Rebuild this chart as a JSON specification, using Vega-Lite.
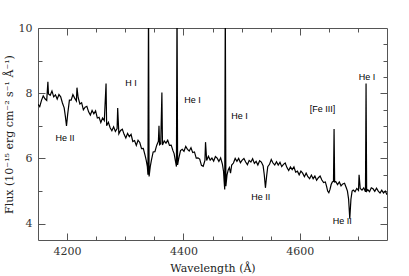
{
  "$schema": "https://vega.github.io/schema/vega-lite/v6.json",
  "width": 349,
  "height": 212,
  "autosize": {"type": "none"},
  "padding": {"left": 38, "top": 28, "right": 22, "bottom": 36},
  "background": "white",
  "config": {"view": {"stroke": "#555", "strokeWidth": 1}},
  "datasets": {
    "spec": [
      {"w":4150,"f":7.66},{"w":4153,"f":7.59},{"w":4156,"f":7.78},{"w":4159,"f":7.92},{"w":4162,"f":7.83},{"w":4165,"f":7.78},{"w":4167,"f":8.35},{"w":4168,"f":7.98},{"w":4171,"f":7.94},{"w":4174,"f":8.07},{"w":4177,"f":7.89},{"w":4180,"f":7.95},{"w":4183,"f":7.82},{"w":4186,"f":7.96},{"w":4189,"f":7.89},{"w":4192,"f":7.7},{"w":4195,"f":7.55},{"w":4197,"f":7.3},{"w":4199,"f":7.0},{"w":4201,"f":7.35},
      {"w":4204,"f":7.79},{"w":4207,"f":7.79},{"w":4210,"f":7.96},{"w":4213,"f":7.85},{"w":4216,"f":7.76},{"w":4217,"f":8.17},{"w":4219,"f":7.87},{"w":4222,"f":7.67},{"w":4225,"f":7.71},{"w":4228,"f":7.49},{"w":4231,"f":7.57},{"w":4234,"f":7.6},{"w":4237,"f":7.43},{"w":4240,"f":7.33},{"w":4243,"f":7.47},{"w":4246,"f":7.37},{"w":4249,"f":7.46},{"w":4252,"f":7.24},{"w":4255,"f":7.26},{"w":4258,"f":7.1},{"w":4261,"f":7.24},{"w":4264,"f":7.16},{"w":4267,"f":8.3},
      {"w":4268,"f":7.0},{"w":4271,"f":7.11},{"w":4274,"f":6.94},{"w":4277,"f":6.85},{"w":4280,"f":6.97},{"w":4283,"f":6.83},{"w":4286,"f":6.92},{"w":4287,"f":7.55},{"w":4289,"f":6.76},{"w":4292,"f":6.86},{"w":4295,"f":6.9},{"w":4298,"f":6.74},{"w":4301,"f":6.63},{"w":4304,"f":6.77},{"w":4307,"f":6.67},{"w":4310,"f":6.74},{"w":4313,"f":6.52},{"w":4316,"f":6.55},{"w":4319,"f":6.4},{"w":4322,"f":6.56},{"w":4325,"f":6.49},{"w":4328,"f":6.3},{"w":4331,"f":6.31},
      {"w":4334,"f":6.1},{"w":4336,"f":5.95},{"w":4338,"f":5.75},{"w":4339,"f":5.5},{"w":4340,"f":10.8},{"w":4341,"f":5.45},{"w":4343,"f":5.75},{"w":4345,"f":5.95},
      {"w":4348,"f":6.2},{"w":4351,"f":6.21},{"w":4354,"f":6.4},{"w":4357,"f":6.53},{"w":4358,"f":7.0},{"w":4359,"f":6.42},{"w":4361,"f":6.45},{"w":4363,"f":8.02},{"w":4364,"f":6.41},{"w":4367,"f":6.54},{"w":4370,"f":6.47},{"w":4373,"f":6.56},{"w":4376,"f":6.4},{"w":4379,"f":6.41},{"w":4382,"f":6.24},
      {"w":4384,"f":6.15},{"w":4386,"f":5.95},{"w":4388,"f":5.75},{"w":4389,"f":10.8},{"w":4390,"f":5.8},{"w":4392,"f":6.0},
      {"w":4395,"f":6.24},{"w":4398,"f":6.28},{"w":4401,"f":6.22},{"w":4404,"f":6.37},{"w":4407,"f":6.28},{"w":4410,"f":6.23},{"w":4413,"f":6.33},{"w":4416,"f":6.18},{"w":4419,"f":6.2},{"w":4422,"f":6.01},{"w":4425,"f":6.02},{"w":4428,"f":5.98},{"w":4431,"f":5.79},{"w":4434,"f":5.76},{"w":4437,"f":5.94},{"w":4438,"f":6.5},{"w":4440,"f":5.94},{"w":4443,"f":6.07},{"w":4446,"f":5.95},{"w":4449,"f":6.01},{"w":4452,"f":5.92},{"w":4455,"f":6.06},{"w":4458,"f":6.01},{"w":4461,"f":5.91},{"w":4464,"f":6.02},{"w":4467,"f":5.83},
      {"w":4469,"f":5.6},{"w":4470,"f":5.3},{"w":4471,"f":5.05},{"w":4472,"f":10.8},{"w":4473,"f":5.15},{"w":4475,"f":5.5},{"w":4477,"f":5.65},{"w":4479,"f":5.72},{"w":4481,"f":5.55},{"w":4483,"f":5.8},
      {"w":4486,"f":5.86},{"w":4489,"f":6.0},{"w":4492,"f":5.91},{"w":4495,"f":6.0},{"w":4498,"f":5.87},{"w":4501,"f":5.95},{"w":4504,"f":6.0},{"w":4507,"f":5.89},{"w":4510,"f":5.81},{"w":4513,"f":5.94},{"w":4516,"f":5.89},{"w":4519,"f":5.99},{"w":4522,"f":5.85},{"w":4525,"f":5.91},{"w":4528,"f":5.8},{"w":4531,"f":5.93},{"w":4534,"f":5.89},
      {"w":4537,"f":5.78},{"w":4539,"f":5.5},{"w":4541,"f":5.1},{"w":4543,"f":5.45},{"w":4545,"f":5.75},
      {"w":4548,"f":5.82},{"w":4551,"f":5.97},{"w":4554,"f":5.86},{"w":4557,"f":5.8},{"w":4560,"f":5.9},{"w":4563,"f":5.8},{"w":4566,"f":5.88},{"w":4569,"f":5.75},{"w":4572,"f":5.82},{"w":4575,"f":5.86},{"w":4578,"f":5.72},{"w":4581,"f":5.63},{"w":4584,"f":5.74},{"w":4587,"f":5.66},{"w":4590,"f":5.74},{"w":4593,"f":5.58},{"w":4596,"f":5.61},{"w":4599,"f":5.5},{"w":4602,"f":5.61},{"w":4605,"f":5.55},{"w":4608,"f":5.44},{"w":4611,"f":5.55},{"w":4614,"f":5.44},{"w":4617,"f":5.38},{"w":4620,"f":5.49},{"w":4623,"f":5.38},{"w":4626,"f":5.46},{"w":4629,"f":5.33},{"w":4632,"f":5.41},{"w":4635,"f":5.46},{"w":4638,"f":5.34},{"w":4641,"f":5.26},
      {"w":4644,"f":5.28},{"w":4646,"f":5.15},{"w":4648,"f":5.0},{"w":4650,"f":4.95},{"w":4652,"f":5.05},{"w":4654,"f":5.2},{"w":4656,"f":5.28},{"w":4658,"f":5.3},{"w":4659,"f":6.9},{"w":4660,"f":5.28},
      {"w":4662,"f":5.29},{"w":4665,"f":5.2},{"w":4668,"f":5.28},{"w":4671,"f":5.16},{"w":4674,"f":5.22},{"w":4677,"f":5.24},
      {"w":4680,"f":5.1},{"w":4682,"f":5.0},{"w":4684,"f":4.75},{"w":4686,"f":4.15},{"w":4688,"f":4.75},{"w":4690,"f":5.0},
      {"w":4692,"f":5.03},{"w":4695,"f":4.98},{"w":4698,"f":5.08},{"w":4701,"f":5.02},{"w":4702,"f":5.5},{"w":4704,"f":5.08},{"w":4707,"f":5.03},{"w":4710,"f":5.1},{"w":4713,"f":4.98},{"w":4714,"f":8.3},{"w":4715,"f":5.0},{"w":4717,"f":5.04},{"w":4720,"f":4.98},{"w":4723,"f":5.1},{"w":4726,"f":5.07},{"w":4729,"f":4.99},{"w":4732,"f":5.09},{"w":4735,"f":5.0},{"w":4738,"f":4.94},{"w":4741,"f":5.03},{"w":4744,"f":4.94},{"w":4747,"f":5.0},{"w":4750,"f":4.89}
    ],
    "labels": [
      {"w":4196.5,"f":6.62,"t":"He II"},
      {"w":4310,"f":8.32,"t":"H I"},
      {"w":4415.5,"f":7.8,"t":"He I"},
      {"w":4496.5,"f":7.3,"t":"He I"},
      {"w":4533,"f":4.82,"t":"He II"},
      {"w":4639,"f":7.52,"t":"[Fe III]"},
      {"w":4715.5,"f":8.5,"t":"He I"},
      {"w":4673,"f":4.07,"t":"He II"}
    ]
  },
  "layer": [
    {
      "data": {"name": "spec"},
      "mark": {"type": "line", "color": "black", "strokeWidth": 1.2, "clip": true, "interpolate": "linear"},
      "encoding": {
        "x": {
          "field": "w", "type": "quantitative",
          "scale": {"domain": [4150, 4750], "nice": false, "zero": false},
          "axis": {
            "orient": "bottom",
            "values": [4200,4250,4300,4350,4400,4450,4500,4550,4600,4650,4700],
            "format": "d",
            "labelExpr": "datum.value % 200 === 0 ? datum.label : ''",
            "tickSize": {"condition": {"test": "datum.value % 200 === 0", "value": -7}, "value": -4},
            "tickColor": "#555",
            "domain": false, "grid": false,
            "labelOverlap": false, "labelFlush": false,
            "labelFont": "DejaVu Serif", "labelFontSize": 11, "labelColor": "#333",
            "labelPadding": 12,
            "title": "Wavelength (Å)",
            "titleFont": "DejaVu Serif", "titleFontSize": 11, "titleFontWeight": "normal", "titleColor": "#222",
            "titlePadding": 3
          }
        },
        "y": {
          "field": "f", "type": "quantitative",
          "scale": {"domain": [3.5, 10], "nice": false, "zero": false},
          "axis": {
            "orient": "left",
            "values": [4,4.5,5,5.5,6,6.5,7,7.5,8,8.5,9,9.5,10],
            "format": "d",
            "labelExpr": "datum.value % 2 === 0 ? datum.label : ''",
            "tickSize": {"condition": {"test": "datum.value % 2 === 0", "value": -7}, "value": -4},
            "tickColor": "#555",
            "domain": false, "grid": false,
            "labelOverlap": false, "labelFlush": false,
            "labelFont": "DejaVu Serif", "labelFontSize": 11, "labelColor": "#333",
            "labelPadding": 13,
            "title": "Flux (10⁻¹⁵ erg cm⁻² s⁻¹ Å⁻¹)",
            "titleFont": "DejaVu Serif", "titleFontSize": 11, "titleFontWeight": "normal", "titleColor": "#222",
            "titlePadding": 4
          }
        }
      }
    },
    {
      "data": {"name": "labels"},
      "mark": {"type": "text", "font": "Liberation Sans", "fontSize": 9, "fill": "#000", "align": "center", "baseline": "middle"},
      "encoding": {
        "x": {
          "field": "w", "type": "quantitative",
          "scale": {"domain": [4150, 4750], "nice": false, "zero": false},
          "axis": {
            "orient": "top",
            "values": [4200,4250,4300,4350,4400,4450,4500,4550,4600,4650,4700],
            "labels": false,
            "tickSize": {"condition": {"test": "datum.value % 200 === 0", "value": -7}, "value": -4},
            "tickColor": "#555",
            "domain": false, "grid": false, "title": null
          }
        },
        "y": {
          "field": "f", "type": "quantitative",
          "scale": {"domain": [3.5, 10], "nice": false, "zero": false},
          "axis": {
            "orient": "right",
            "values": [4,4.5,5,5.5,6,6.5,7,7.5,8,8.5,9,9.5],
            "labels": false,
            "tickSize": {"condition": {"test": "datum.value % 2 === 0", "value": -7}, "value": -4},
            "tickColor": "#555",
            "domain": false, "grid": false, "title": null
          }
        },
        "text": {"field": "t", "type": "nominal"}
      }
    }
  ],
  "resolve": {"axis": {"x": "independent", "y": "independent"}}
}
